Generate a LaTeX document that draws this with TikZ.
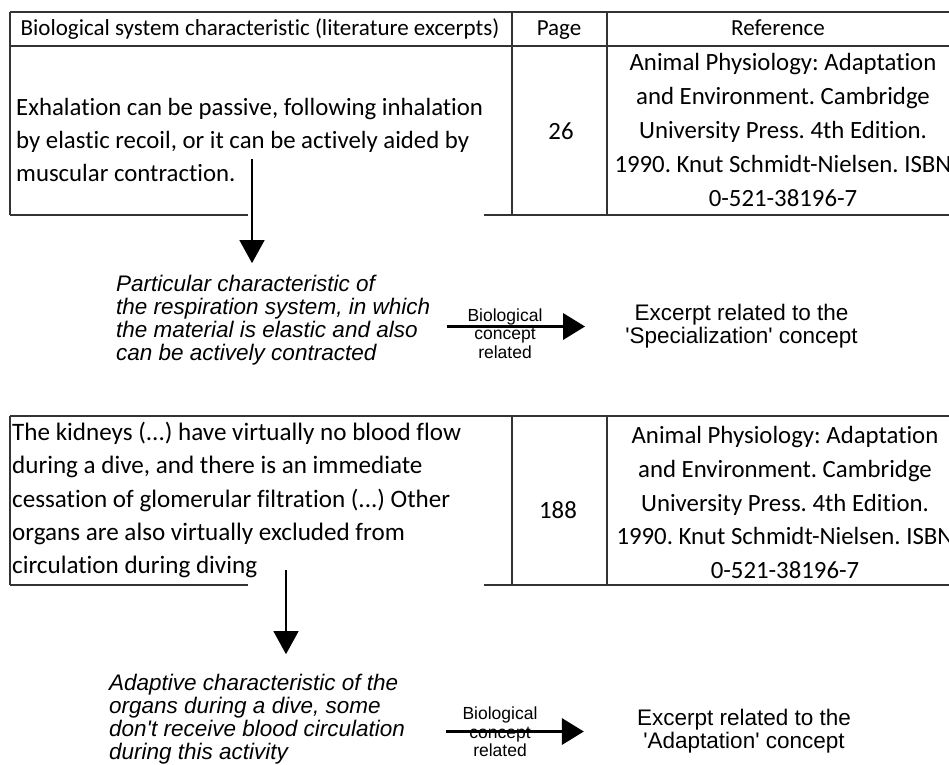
\documentclass[tikz,border=0pt]{standalone}
\usepackage{fontspec}
\setmainfont{Carlito}[Ligatures=NoCommon]
\newfontfamily\arialfont{Liberation Sans}
\usetikzlibrary{arrows.meta}

\tikzset{
  cell/.style={font={\fontsize{24.8}{33.2}\selectfont}, inner sep=0pt, align=left, anchor=west},
  midcell/.style={font={\fontsize{24.8}{34}\selectfont}, inner sep=0pt, align=center},
  headcell/.style={font={\fontsize{23}{28}\selectfont}, inner sep=0pt, anchor=base},
  desc/.style={font={\arialfont\itshape\fontsize{22.5}{22.8}\selectfont}, inner sep=0pt, align=left, anchor=west},
  concept/.style={font={\arialfont\fontsize{22.5}{23}\selectfont}, inner sep=0pt, align=center},
  arrowlabel/.style={font={\arialfont\fontsize{17.5}{18.5}\selectfont}, inner sep=0pt, align=center},
  tableline/.style={black!80, line width=1.2pt},
  downarrow/.style={-{Triangle[width=25pt,length=23pt]}, line width=1.2pt},
  bigarrow/.style={-{Triangle[width=26pt,length=22pt]}, line width=3.5pt},
}

\begin{document}
\frenchspacing
\begin{tikzpicture}[x=1pt,y=-1pt]
	\useasboundingbox (0,0) rectangle (949,764);
	% first table
	\draw[tableline] (10,12) -- (949,12);
	\draw[tableline] (10,46) -- (949,46);
	\draw[tableline] (10,12) -- (10,215);
	\draw[tableline] (512,12) -- (512,216);
	\draw[tableline] (607,12) -- (607,216);
	\draw[tableline] (10,215) -- (248,215);
	\draw[tableline] (484,215) -- (949,215);
	\node[headcell] (hexc) at (260,35) {Biological system characteristic (literature excerpts)};
	\node[headcell] (hpage) at (559,35) {Page};
	\node[headcell] (href) at (778,35) {Reference};
	\node[cell] (exc1) at (16,140) {Exhalation can be passive, following inhalation\\by elastic recoil, or it can be actively aided by\\muscular contraction.};
	\node[midcell, anchor=base] (pg1) at (561,139) {26};
	\node[midcell] (ref1) at (783,129.5) {Animal Physiology: Adaptation\\and Environment. Cambridge\\University Press. 4th Edition.\\1990. Knut Schmidt-Nielsen. ISBN\\0-521-38196-7};
	% first excerpt
	\coordinate (a1) at (252,159);
	\node[desc] (desc1) at (116,320) {Particular characteristic of\\the respiration system, in which\\the material is elastic and also\\can be actively contracted};
	\node[arrowlabel] (lab1) at (505,333.6) {Biological\\concept\\related};
	\node[concept] (con1) at (741.5,326.5) {Excerpt related to the\\'Specialization' concept};
	\draw[downarrow, shorten >=12pt] (a1) -- (a1 |- desc1.north);
	\draw[bigarrow, shorten <=17pt, shorten >=40pt] (desc1.east |- con1.west) -- (con1.west);
	% second table
	\draw[tableline] (10,416) -- (949,416);
	\draw[tableline] (10,416) -- (10,585);
	\draw[tableline] (512,416) -- (512,586);
	\draw[tableline] (607,416) -- (607,586);
	\draw[tableline] (10,585) -- (248,585);
	\draw[tableline] (484,585) -- (949,585);
	\node[cell, font={\fontsize{25.1}{33.2}\selectfont}] (exc2) at (12,500) {The kidneys (...) have virtually no blood flow\\during a dive, and there is an immediate\\cessation of glomerular filtration (...) Other\\organs are also virtually excluded from\\circulation during diving};
	\node[midcell, anchor=base] (pg2) at (558,518) {188};
	\node[midcell, font={\fontsize{24.8}{33.75}\selectfont}] (ref2) at (785,502.5) {Animal Physiology: Adaptation\\and Environment. Cambridge\\University Press. 4th Edition.\\1990. Knut Schmidt-Nielsen. ISBN\\0-521-38196-7};
	% second excerpt
	\coordinate (a2) at (286,570);
	\node[desc, font={\arialfont\itshape\fontsize{22.5}{23.1}\selectfont}] (desc2) at (109,719.5) {Adaptive characteristic of the\\organs during a dive, some\\don't receive blood circulation\\during this activity};
	\node[arrowlabel] (lab2) at (500,732) {Biological\\concept\\related};
	\node[concept] (con2) at (744,731.5) {Excerpt related to the\\'Adaptation' concept};
	\draw[downarrow, shorten >=20pt] (a2) -- (a2 |- desc2.north);
	\draw[bigarrow, shorten <=41pt, shorten >=53pt] (desc2.east |- con2.west) -- (con2.west);
\end{tikzpicture}
\end{document}
